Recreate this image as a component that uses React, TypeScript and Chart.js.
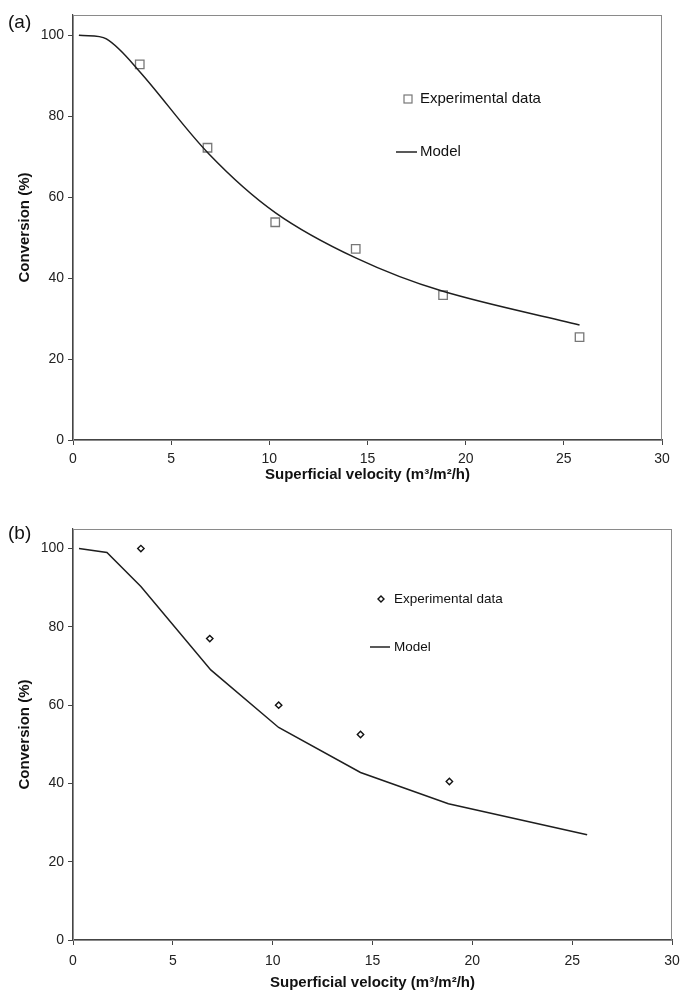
import React, { useEffect, useRef } from "react";
import { Chart, registerables } from "chart.js";

Chart.register(...registerables);

// ---------- data ----------
const xTickValues = [0, 5, 10, 15, 20, 25, 30];
const yTickValues = [0, 20, 40, 60, 80, 100];

const expXA = [3.4, 6.85, 10.3, 14.4, 18.85, 25.8];
const expYA = [92.8, 72.2, 53.8, 47.2, 35.8, 25.4];
const modelXA = [0.3, 1.7, 3.4, 6.9, 10.3, 14.4, 18.8, 25.8];
const modelYA = [100, 99.1, 91, 70.8, 56.2, 45, 36.8, 28.4];

const expXB = [3.4, 6.85, 10.3, 14.4, 18.85];
const expYB = [100, 77, 60, 52.5, 40.5];
const modelXB = [0.3, 1.7, 3.4, 6.9, 10.3, 14.4, 18.8, 25.75];
const modelYB = [100, 99, 90.3, 69, 54.3, 42.8, 34.8, 26.9];

const legendLabels = ["Experimental data", "Model"];
const panelLabels = ["(a)", "(b)"];
const xTitle = "Superficial velocity (m\u00b3/m\u00b2/h)";
const yTitle = "Conversion (%)";

const FONT = "'Liberation Sans', Arial, Helvetica, sans-serif";

const overlayPlugin = {
  id: "overlay",
  beforeDatasetsDraw(chart: any) {
    const { ctx, chartArea } = chart;
    ctx.save();
    ctx.strokeStyle = "#8a8a8a";
    ctx.lineWidth = 1;
    ctx.strokeRect(chartArea.left + 0.5, chartArea.top + 0.5, chartArea.right - chartArea.left - 1, chartArea.bottom - chartArea.top);
    ctx.restore();
  },
  afterDraw(chart: any, _args: any, opts: any) {
    const { ctx } = chart;
    ctx.save();
    // panel label
    ctx.fillStyle = "#111";
    ctx.font = `19px ${FONT}`;
    ctx.textBaseline = "middle";
    ctx.textAlign = "left";
    ctx.fillText(opts.panel, 8, opts.panelY);
    // legend
    ctx.font = `${opts.legendSize}px ${FONT}`;
    const [l1, l2] = opts.legend;
    if (opts.marker === "rect") {
      ctx.strokeStyle = "#777";
      ctx.lineWidth = 1.2;
      ctx.strokeRect(l1.mx - 4, l1.y - 4, 8, 8);
    } else {
      ctx.strokeStyle = "#111";
      ctx.lineWidth = 1.4;
      ctx.beginPath();
      ctx.moveTo(l1.mx, l1.y - 3);
      ctx.lineTo(l1.mx + 3, l1.y);
      ctx.lineTo(l1.mx, l1.y + 3);
      ctx.lineTo(l1.mx - 3, l1.y);
      ctx.closePath();
      ctx.stroke();
    }
    ctx.fillStyle = "#111";
    ctx.fillText(legendLabels[0], l1.tx, l1.y);
    ctx.strokeStyle = "#222";
    ctx.lineWidth = 1.5;
    ctx.beginPath();
    ctx.moveTo(l2.x0, l2.y);
    ctx.lineTo(l2.x1, l2.y);
    ctx.stroke();
    ctx.fillText(legendLabels[1], l2.tx, l2.y);
    ctx.restore();
  },
};

type Panel = {
  canvasTop: number;
  height: number;
  padTop: number;
  padRight: number;
  xBoxHeight: number;
  xTickPad: number;
  xTitlePad: number;
  expX: number[];
  expY: number[];
  modelX: number[];
  modelY: number[];
  marker: string;
  tension: number;
  panel: string;
  panelY: number;
  legendSize: number;
  legend: any[];
};

function buildConfig(p: Panel): any {
  const exp = p.expX.map((x, i) => ({ x, y: p.expY[i] }));
  const model = p.modelX.map((x, i) => ({ x, y: p.modelY[i] }));
  const tickFont = { family: FONT, size: 14 };
  const titleFont = { family: FONT, size: 15, weight: "bold" as const };
  return {
    type: "scatter",
    data: {
      datasets: [
        {
          label: legendLabels[1],
          data: model,
          showLine: true,
          borderColor: "#1e1e1e",
          borderWidth: 1.5,
          pointRadius: 0,
          tension: p.tension,
          fill: false,
        },
        {
          label: legendLabels[0],
          data: exp,
          showLine: false,
          pointStyle: p.marker === "rect" ? "rect" : "rectRot",
          pointRadius: p.marker === "rect" ? 6 : 3.2,
          pointBorderColor: p.marker === "rect" ? "#777" : "#111",
          pointBackgroundColor: "rgba(0,0,0,0)",
          pointBorderWidth: p.marker === "rect" ? 1.3 : 1.4,
        },
      ],
    },
    options: {
      animation: false,
      responsive: false,
      devicePixelRatio: 1,
      layout: { padding: { top: p.padTop, right: p.padRight, left: 0, bottom: 0 } },
      plugins: {
        legend: { display: false },
        tooltip: { enabled: false },
        overlay: { panel: p.panel, panelY: p.panelY, marker: p.marker, legend: p.legend, legendSize: p.legendSize },
      },
      scales: {
        x: {
          type: "linear",
          min: 0,
          max: 30,
          afterBuildTicks: (s: any) => {
            s.ticks = xTickValues.map((v) => ({ value: v }));
          },
          afterFit: (s: any) => {
            s.height = p.xBoxHeight;
            s.paddingLeft = 0;
            s.paddingRight = 0;
          },
          border: { color: "#444", width: 1.2 },
          grid: { drawOnChartArea: false, drawTicks: true, tickLength: 5, color: "#444" },
          ticks: { font: tickFont, color: "#222", padding: p.xTickPad, maxRotation: 0 },
          title: { display: true, text: xTitle, font: titleFont, color: "#111", padding: { top: 0, bottom: p.xTitlePad } },
        },
        y: {
          type: "linear",
          min: 0,
          max: 105,
          afterBuildTicks: (s: any) => {
            s.ticks = yTickValues.map((v) => ({ value: v }));
          },
          afterFit: (s: any) => {
            s.width = 73;
          },
          border: { color: "#444", width: 1.2 },
          grid: { drawOnChartArea: false, drawTicks: true, tickLength: 5, color: "#444" },
          ticks: { font: tickFont, color: "#222", padding: 4 },
          title: { display: true, text: yTitle, font: titleFont, color: "#111", padding: { top: 16, bottom: 0 } },
        },
      },
    },
    plugins: [overlayPlugin],
  };
}

const panels: Panel[] = [
  {
    canvasTop: 0,
    height: 490,
    padTop: 15,
    padRight: 19,
    xBoxHeight: 50,
    xTickPad: 6,
    xTitlePad: 6,
    expX: expXA,
    expY: expYA,
    modelX: modelXA,
    modelY: modelYA,
    marker: "rect",
    tension: 0.33,
    panel: panelLabels[0],
    panelY: 23,
    legendSize: 15,
    legend: [
      { mx: 408, tx: 420, y: 99 },
      { x0: 396, x1: 417, tx: 420, y: 152 },
    ],
  },
  {
    canvasTop: 490,
    height: 502,
    padTop: 39,
    padRight: 9,
    xBoxHeight: 52,
    xTickPad: 8,
    xTitlePad: 0,
    expX: expXB,
    expY: expYB,
    modelX: modelXB,
    modelY: modelYB,
    marker: "diamond",
    tension: 0,
    panel: panelLabels[1],
    panelY: 44,
    legendSize: 13.5,
    legend: [
      { mx: 381, tx: 394, y: 109 },
      { x0: 370, x1: 390, tx: 394, y: 157 },
    ],
  },
];

function PanelChart({ p }: { p: Panel }) {
  const ref = useRef<HTMLCanvasElement>(null);
  useEffect(() => {
    if (!ref.current) return;
    const chart = new Chart(ref.current, buildConfig(p));
    return () => chart.destroy();
  }, [p]);
  return (
    <canvas
      ref={ref}
      width={681}
      height={p.height}
      style={{ position: "absolute", left: 0, top: p.canvasTop, width: 681, height: p.height }}
    />
  );
}

export default function App() {
  return (
    <div style={{ position: "absolute", left: 0, top: 0, width: 681, height: 992, background: "#fff" }}>
      {panels.map((p, i) => (
        <PanelChart key={i} p={p} />
      ))}
    </div>
  );
}
